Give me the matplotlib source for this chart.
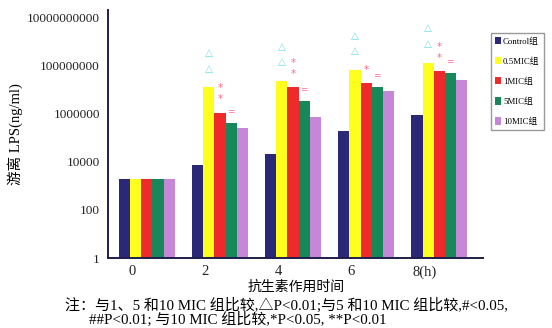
import numpy as np
import matplotlib.pyplot as plt

# data (log scale)
hours = ['0', '2', '4', '6', '8(h)']
groups = ['Control组', '0.5MIC组', '1MIC组', '5MIC组', '10MIC组']
colors = ['#2b2878', '#ffff1e', '#ee2a2a', '#17885a', '#c688d6']
control = [2000, 7500, 20000, 180000, 900000]
mic05 = [2000, 12000000, 23000000, 63000000, 130000000]
mic1 = [2000, 1100000, 12000000, 18000000, 58000000]
mic5 = [2000, 400000, 3200000, 12000000, 46000000]
mic10 = [2000, 260000, 700000, 8300000, 25000000]
values = [control, mic05, mic1, mic5, mic10]

# significance marks per time point
n_tri = [0, 2, 2, 2, 2]    # above 0.5MIC
n_star = [0, 2, 2, 1, 2]   # above 1MIC
n_hash = [0, 1, 1, 1, 1]   # above 5MIC

serif = ['Liberation Serif', 'Noto Sans CJK SC']

fig = plt.figure(figsize=(5.52, 3.28), dpi=100)
ax = fig.add_axes([0.196, 0.213, 0.679, 0.757])

x = np.arange(len(hours))
w = 0.152
for k in range(len(groups)):
    ax.bar(x + (k - 2) * w, values[k], w, color=colors[k], label=groups[k],
           edgecolor='none')

# marks
for i in range(len(hours)):
    for j in range(n_tri[i]):
        ax.annotate('△', (x[i] - w, mic05[i]), xytext=(0, 10 + 11 * j),
                    textcoords='offset points', ha='center', va='bottom',
                    color='#6fe0ea', fontsize=7.5)
    for j in range(n_star[i]):
        ax.annotate('*', (x[i], mic1[i]), xytext=(0, 6 + 8 * j),
                    textcoords='offset points', ha='center', va='bottom',
                    color='#ff6a8a', fontsize=7.5)
    for j in range(n_hash[i]):
        ax.annotate('=', (x[i] + w, mic5[i]), xytext=(0, 5),
                    textcoords='offset points', ha='center', va='bottom',
                    color='#ff6a9a', fontsize=6.5)

ax.set_yscale('log')
ax.set_ylim(1, 2e10)
ax.set_xlim(-0.53, 4.6)
ax.set_yticks([1, 100, 10000, 1000000, 100000000, 10000000000])
ax.set_yticklabels(['1', '100', '10000', '1000000', '100000000', '10000000000'],
                   family=serif, fontsize=9.5)
ax.minorticks_off()
ax.set_xticks(x - 0.2)
ax.set_xticklabels(hours, family=serif, fontsize=10.5)
ax.tick_params(length=0, pad=5, colors='#222')
ax.tick_params(axis='y', pad=6)
for s in ['top', 'right']:
    ax.spines[s].set_visible(False)
for s in ['left', 'bottom']:
    ax.spines[s].set_color('#1e1e4a')
    ax.spines[s].set_linewidth(1.4)

ax.set_ylabel('游离 LPS(ng/ml)', family=serif, fontsize=10.5, labelpad=3)
fig.text(0.537, 0.125, '抗生素作用时间', family=serif, fontsize=10,
         ha='center', va='center')
fig.text(0.118, 0.068, '注：与1、5 和10 MIC 组比较,△P<0.01;与5 和10 MIC 组比较,#<0.05,',
         family=serif, fontsize=10.8, va='center')
fig.text(0.161, 0.026, '##P<0.01; 与10 MIC 组比较,*P<0.05, **P<0.01',
         family=serif, fontsize=10.8, va='center')

fig.legend(loc='upper left', bbox_to_anchor=(0.889, 0.9), prop={'family': serif, 'size': 6.3},
           handlelength=0.7, handleheight=0.9, handletextpad=0.2,
           labelspacing=1.3, borderpad=0.5, borderaxespad=0, fancybox=False,
           edgecolor='#999999', framealpha=1)

fig.savefig('out.png', dpi=100)
